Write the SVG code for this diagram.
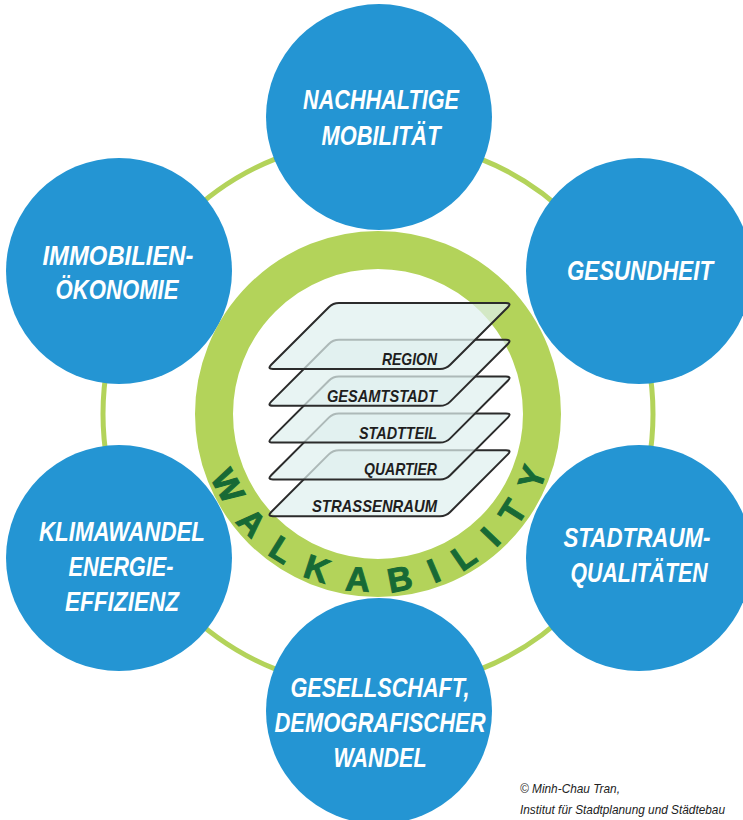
<svg xmlns="http://www.w3.org/2000/svg" width="743" height="820" viewBox="0 0 743 820">
<style>
.bg{fill:#ffffff}
.blue{fill:#2495d3}
.lbl{font-family:"Liberation Sans",Arial,sans-serif;font-weight:bold;font-style:italic;font-size:28px;fill:#ffffff;text-anchor:middle}
.thin{fill:none;stroke:#b3d35a;stroke-width:5}
.ring{fill:none;stroke:#b3d35a;stroke-width:38}
.layer{fill:#dff0ef;fill-opacity:0.72;stroke:#2b2b2b;stroke-width:2;stroke-linejoin:round}
.ll{font-family:"Liberation Sans",Arial,sans-serif;font-weight:bold;font-style:italic;font-size:17px;fill:#1e1e1e;text-anchor:end}
.copy{font-family:"Liberation Sans",Arial,sans-serif;font-style:italic;font-size:13px;fill:#222}
</style>
<defs>
<path id="para" d="M 72 0 L 239 0 Q 245 0 240.8 4.2 L 183.2 61.8 Q 179 66 173 66 L 6 66 Q 0 66 4.2 61.8 L 61.8 4.2 Q 66 0 72 0 Z"/>
<path id="arc" d="M 200 414 A 178 178 0 0 0 556 414"/>
</defs>
<rect class="bg" x="0" y="0" width="743" height="820"/>
<g id="connectors">
<circle class="thin" cx="378" cy="414" r="275"/>
</g>
<g id="n-mobilitaet">
<circle class="blue" cx="379" cy="117" r="113"/>
<text class="lbl" x="381" y="109" textLength="156" lengthAdjust="spacingAndGlyphs">NACHHALTIGE</text>
<text class="lbl" x="381" y="145" textLength="119" lengthAdjust="spacingAndGlyphs">MOBILITÄT</text>
</g>
<g id="n-immobilien">
<circle class="blue" cx="119" cy="271" r="113"/>
<text class="lbl" x="118" y="265" textLength="151" lengthAdjust="spacingAndGlyphs">IMMOBILIEN-</text>
<text class="lbl" x="117" y="299" textLength="123" lengthAdjust="spacingAndGlyphs">ÖKONOMIE</text>
</g>
<g id="n-gesundheit">
<circle class="blue" cx="639" cy="271" r="113"/>
<text class="lbl" x="640" y="280" textLength="146" lengthAdjust="spacingAndGlyphs">GESUNDHEIT</text>
</g>
<g id="n-klima">
<circle class="blue" cx="119" cy="558" r="113"/>
<text class="lbl" x="122" y="541" textLength="166" lengthAdjust="spacingAndGlyphs">KLIMAWANDEL</text>
<text class="lbl" x="121" y="576" textLength="105" lengthAdjust="spacingAndGlyphs">ENERGIE-</text>
<text class="lbl" x="122" y="611" textLength="114" lengthAdjust="spacingAndGlyphs">EFFIZIENZ</text>
</g>
<g id="n-stadtraum">
<circle class="blue" cx="639" cy="558" r="113"/>
<text class="lbl" x="637" y="547" textLength="147" lengthAdjust="spacingAndGlyphs">STADTRAUM-</text>
<text class="lbl" x="639" y="582" textLength="137" lengthAdjust="spacingAndGlyphs">QUALITÄTEN</text>
</g>
<g id="n-gesellschaft">
<circle class="blue" cx="379" cy="711" r="113"/>
<text class="lbl" x="380" y="697" textLength="179" lengthAdjust="spacingAndGlyphs">GESELLSCHAFT,</text>
<text class="lbl" x="380" y="732" textLength="211" lengthAdjust="spacingAndGlyphs">DEMOGRAFISCHER</text>
<text class="lbl" x="380" y="767" textLength="93" lengthAdjust="spacingAndGlyphs">WANDEL</text>
</g>
<g id="n-walkability">
<circle class="ring" cx="378" cy="414" r="164"/>
<text font-family="Liberation Sans, Arial, sans-serif" font-weight="bold" font-size="34" fill="#176a35" stroke="#176a35" stroke-width="1" text-anchor="middle" letter-spacing="20.5"><textPath href="#arc" startOffset="293">WALKABILITY</textPath></text>
</g>
<g id="l-strassenraum">
<use href="#para" class="layer" transform="translate(267,450.2)"/>
<text class="ll" x="437" y="512.2" textLength="125" lengthAdjust="spacingAndGlyphs">STRASSENRAUM</text>
</g>
<g id="l-quartier">
<use href="#para" class="layer" transform="translate(267,413.4)"/>
<text class="ll" x="437" y="475.4" textLength="73" lengthAdjust="spacingAndGlyphs">QUARTIER</text>
</g>
<g id="l-stadtteil">
<use href="#para" class="layer" transform="translate(267,376.6)"/>
<text class="ll" x="437" y="438.6" textLength="78" lengthAdjust="spacingAndGlyphs">STADTTEIL</text>
</g>
<g id="l-gesamtstadt">
<use href="#para" class="layer" transform="translate(267,339.8)"/>
<text class="ll" x="437" y="401.8" textLength="110" lengthAdjust="spacingAndGlyphs">GESAMTSTADT</text>
</g>
<g id="l-region">
<use href="#para" class="layer" transform="translate(267,303)"/>
<text class="ll" x="437" y="365" textLength="55" lengthAdjust="spacingAndGlyphs">REGION</text>
</g>
<g id="copyright">
<text class="copy" x="520" y="793" textLength="100" lengthAdjust="spacingAndGlyphs">© Minh-Chau Tran,</text>
<text class="copy" x="520" y="814" textLength="205" lengthAdjust="spacingAndGlyphs">Institut für Stadtplanung und Städtebau</text>
</g>
</svg>
